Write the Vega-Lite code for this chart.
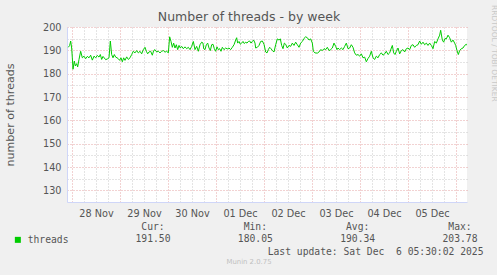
{
  "$schema": "https://vega.github.io/schema/vega-lite/v6.json",
  "background": "#f0f0f0",
  "padding": {"left": 4, "top": 5, "right": 10, "bottom": 10},
  "config": {
    "view": {"stroke": null},
    "font": "DejaVu Sans",
    "axis": {"labelFont": "DejaVu Sans", "labelFontSize": 9.7, "labelColor": "#555555", "titleFont": "DejaVu Sans", "titleFontWeight": "normal", "titleColor": "#555555", "labelFlush": false, "labelOverlap": false},
    "title": {"font": "DejaVu Sans", "fontWeight": "normal"}
  },
  "title": {"text": "RRDTOOL / TOBI OETIKER", "orient": "right", "anchor": "start", "fontSize": 7.5, "color": "#c8c8c8", "offset": 7, "dx": -6, "angle": 90},
  "bounds": "flush",
  "spacing": 19,
  "vconcat": [
    {
      "width": 400,
      "height": 175,
      "view": {"fill": "#ffffff", "stroke": null},
      "title": {"text": "Number of threads - by week", "anchor": "middle", "frame": "group", "dx": -18, "fontSize": 12.5, "color": "#555555", "baseline": "alphabetic", "offset": -11.5},
      "data": {"values": [
        {"t":"2025-11-27T22:10","v":191.3},{"t":"2025-11-27T22:50","v":192.1},{"t":"2025-11-27T23:20","v":194.0},{"t":"2025-11-27T23:50","v":191.0},
        {"t":"2025-11-28T00:10","v":186.8},{"t":"2025-11-28T00:30","v":181.9},{"t":"2025-11-28T01:10","v":185.4},{"t":"2025-11-28T01:40","v":183.3},
        {"t":"2025-11-28T02:20","v":184.3},{"t":"2025-11-28T02:50","v":182.9},{"t":"2025-11-28T03:30","v":186.1},{"t":"2025-11-28T04:20","v":189.6},
        {"t":"2025-11-28T05:10","v":186.8},{"t":"2025-11-28T06:00","v":187.5},{"t":"2025-11-28T06:50","v":186.4},{"t":"2025-11-28T07:40","v":187.4},
        {"t":"2025-11-28T08:30","v":186.8},{"t":"2025-11-28T09:20","v":187.9},{"t":"2025-11-28T10:10","v":185.8},{"t":"2025-11-28T11:00","v":187.5},
        {"t":"2025-11-28T11:50","v":186.8},{"t":"2025-11-28T12:40","v":187.8},{"t":"2025-11-28T13:30","v":187.1},{"t":"2025-11-28T14:10","v":188.2},
        {"t":"2025-11-28T14:50","v":186.1},{"t":"2025-11-28T15:30","v":187.4},{"t":"2025-11-28T16:10","v":186.7},{"t":"2025-11-28T16:50","v":186.0},
        {"t":"2025-11-28T17:40","v":186.3},{"t":"2025-11-28T18:30","v":186.8},{"t":"2025-11-28T19:10","v":194.0},{"t":"2025-11-28T19:50","v":188.2},
        {"t":"2025-11-28T20:30","v":186.8},{"t":"2025-11-28T21:10","v":188.2},{"t":"2025-11-28T21:50","v":187.1},{"t":"2025-11-28T22:30","v":186.8},
        {"t":"2025-11-28T23:10","v":186.4},{"t":"2025-11-28T23:50","v":185.7},{"t":"2025-11-29T00:30","v":186.8},{"t":"2025-11-29T01:10","v":185.1},
        {"t":"2025-11-29T01:50","v":186.8},{"t":"2025-11-29T02:30","v":185.7},{"t":"2025-11-29T03:20","v":187.2},{"t":"2025-11-29T04:10","v":186.1},
        {"t":"2025-11-29T05:00","v":186.8},{"t":"2025-11-29T05:50","v":188.2},{"t":"2025-11-29T06:40","v":189.6},{"t":"2025-11-29T07:30","v":188.9},
        {"t":"2025-11-29T08:20","v":189.9},{"t":"2025-11-29T09:10","v":188.9},{"t":"2025-11-29T10:00","v":189.6},{"t":"2025-11-29T10:50","v":188.5},
        {"t":"2025-11-29T11:40","v":190.3},{"t":"2025-11-29T12:30","v":191.3},{"t":"2025-11-29T13:10","v":189.6},{"t":"2025-11-29T13:50","v":188.5},
        {"t":"2025-11-29T14:30","v":189.3},{"t":"2025-11-29T15:20","v":189.6},{"t":"2025-11-29T16:10","v":187.9},{"t":"2025-11-29T16:50","v":189.9},
        {"t":"2025-11-29T17:30","v":190.3},{"t":"2025-11-29T18:20","v":189.3},{"t":"2025-11-29T19:10","v":189.6},{"t":"2025-11-29T20:00","v":188.9},
        {"t":"2025-11-29T20:50","v":189.6},{"t":"2025-11-29T21:40","v":189.9},{"t":"2025-11-29T22:30","v":189.2},{"t":"2025-11-29T23:20","v":189.6},
        {"t":"2025-11-30T00:10","v":188.9},{"t":"2025-11-30T00:50","v":195.8},{"t":"2025-11-30T01:30","v":193.8},{"t":"2025-11-30T02:10","v":191.3},
        {"t":"2025-11-30T02:50","v":193.1},{"t":"2025-11-30T03:30","v":191.0},{"t":"2025-11-30T04:10","v":192.4},{"t":"2025-11-30T04:50","v":190.3},
        {"t":"2025-11-30T05:30","v":192.1},{"t":"2025-11-30T06:10","v":191.0},{"t":"2025-11-30T06:50","v":191.7},{"t":"2025-11-30T07:40","v":190.7},
        {"t":"2025-11-30T08:30","v":191.5},{"t":"2025-11-30T09:20","v":190.7},{"t":"2025-11-30T10:10","v":191.3},{"t":"2025-11-30T11:00","v":190.3},
        {"t":"2025-11-30T11:50","v":191.7},{"t":"2025-11-30T12:40","v":193.8},{"t":"2025-11-30T13:30","v":190.3},{"t":"2025-11-30T14:20","v":191.7},
        {"t":"2025-11-30T15:10","v":189.6},{"t":"2025-11-30T16:00","v":192.4},{"t":"2025-11-30T16:50","v":193.5},{"t":"2025-11-30T17:30","v":193.1},
        {"t":"2025-11-30T17:50","v":190.7},{"t":"2025-11-30T18:30","v":190.3},{"t":"2025-11-30T19:10","v":192.4},{"t":"2025-11-30T19:50","v":193.1},
        {"t":"2025-11-30T20:30","v":191.0},{"t":"2025-11-30T21:10","v":189.9},{"t":"2025-11-30T21:50","v":192.4},{"t":"2025-11-30T22:30","v":192.6},
        {"t":"2025-11-30T23:10","v":190.7},{"t":"2025-11-30T23:50","v":189.6},{"t":"2025-12-01T00:30","v":191.5},{"t":"2025-12-01T01:10","v":190.3},
        {"t":"2025-12-01T01:50","v":190.7},{"t":"2025-12-01T02:30","v":189.6},{"t":"2025-12-01T03:10","v":191.3},{"t":"2025-12-01T04:00","v":190.3},
        {"t":"2025-12-01T04:50","v":191.0},{"t":"2025-12-01T05:40","v":190.6},{"t":"2025-12-01T06:30","v":191.0},{"t":"2025-12-01T07:20","v":190.3},
        {"t":"2025-12-01T08:10","v":191.3},{"t":"2025-12-01T09:00","v":192.4},{"t":"2025-12-01T09:50","v":194.4},{"t":"2025-12-01T10:20","v":195.4},
        {"t":"2025-12-01T10:50","v":193.1},{"t":"2025-12-01T11:30","v":193.8},{"t":"2025-12-01T12:10","v":192.6},{"t":"2025-12-01T12:50","v":193.1},
        {"t":"2025-12-01T13:30","v":193.8},{"t":"2025-12-01T14:10","v":192.9},{"t":"2025-12-01T14:50","v":193.5},{"t":"2025-12-01T15:30","v":193.1},
        {"t":"2025-12-01T16:10","v":193.8},{"t":"2025-12-01T16:50","v":194.0},{"t":"2025-12-01T17:30","v":193.1},{"t":"2025-12-01T18:10","v":193.8},
        {"t":"2025-12-01T18:50","v":194.4},{"t":"2025-12-01T19:30","v":193.1},{"t":"2025-12-01T19:50","v":191.0},{"t":"2025-12-01T20:40","v":191.3},
        {"t":"2025-12-01T21:30","v":192.1},{"t":"2025-12-01T22:20","v":193.8},{"t":"2025-12-01T23:10","v":194.0},{"t":"2025-12-02T00:00","v":192.6},
        {"t":"2025-12-02T00:50","v":189.3},{"t":"2025-12-02T01:30","v":188.9},{"t":"2025-12-02T02:10","v":190.3},{"t":"2025-12-02T02:50","v":191.3},
        {"t":"2025-12-02T03:30","v":190.7},{"t":"2025-12-02T04:10","v":189.9},{"t":"2025-12-02T05:00","v":189.3},{"t":"2025-12-02T05:50","v":192.4},
        {"t":"2025-12-02T06:40","v":194.9},{"t":"2025-12-02T07:30","v":194.4},{"t":"2025-12-02T08:10","v":194.9},{"t":"2025-12-02T08:50","v":192.1},
        {"t":"2025-12-02T09:30","v":190.7},{"t":"2025-12-02T10:10","v":193.1},{"t":"2025-12-02T10:50","v":192.6},{"t":"2025-12-02T11:40","v":191.0},
        {"t":"2025-12-02T12:30","v":192.1},{"t":"2025-12-02T13:20","v":191.7},{"t":"2025-12-02T14:10","v":193.1},{"t":"2025-12-02T15:00","v":192.1},
        {"t":"2025-12-02T15:50","v":193.5},{"t":"2025-12-02T16:40","v":192.4},{"t":"2025-12-02T17:30","v":191.3},{"t":"2025-12-02T18:20","v":193.1},
        {"t":"2025-12-02T19:10","v":193.8},{"t":"2025-12-02T20:00","v":195.1},{"t":"2025-12-02T20:50","v":195.8},{"t":"2025-12-02T21:40","v":195.4},
        {"t":"2025-12-02T22:30","v":194.4},{"t":"2025-12-02T23:20","v":194.9},{"t":"2025-12-03T00:10","v":193.1},{"t":"2025-12-03T00:40","v":189.6},
        {"t":"2025-12-03T01:30","v":188.9},{"t":"2025-12-03T02:40","v":188.8},{"t":"2025-12-03T03:30","v":189.3},{"t":"2025-12-03T04:20","v":190.3},
        {"t":"2025-12-03T05:10","v":189.9},{"t":"2025-12-03T06:00","v":190.7},{"t":"2025-12-03T06:50","v":190.3},{"t":"2025-12-03T07:40","v":191.3},
        {"t":"2025-12-03T08:30","v":189.9},{"t":"2025-12-03T09:20","v":190.3},{"t":"2025-12-03T10:10","v":191.0},{"t":"2025-12-03T11:00","v":193.1},
        {"t":"2025-12-03T11:50","v":191.7},{"t":"2025-12-03T12:30","v":190.3},{"t":"2025-12-03T13:00","v":191.0},{"t":"2025-12-03T13:50","v":190.3},
        {"t":"2025-12-03T14:40","v":191.0},{"t":"2025-12-03T15:30","v":190.3},{"t":"2025-12-03T16:20","v":191.7},{"t":"2025-12-03T17:10","v":193.1},
        {"t":"2025-12-03T18:00","v":190.7},{"t":"2025-12-03T18:50","v":191.0},{"t":"2025-12-03T19:40","v":192.4},{"t":"2025-12-03T20:30","v":191.3},
        {"t":"2025-12-03T21:20","v":188.9},{"t":"2025-12-03T22:10","v":187.9},{"t":"2025-12-03T23:00","v":188.2},{"t":"2025-12-03T23:50","v":187.5},
        {"t":"2025-12-04T00:40","v":188.5},{"t":"2025-12-04T01:30","v":186.8},{"t":"2025-12-04T02:20","v":187.1},{"t":"2025-12-04T03:10","v":185.1},
        {"t":"2025-12-04T04:00","v":186.5},{"t":"2025-12-04T04:50","v":187.5},{"t":"2025-12-04T05:40","v":189.6},{"t":"2025-12-04T06:30","v":186.8},
        {"t":"2025-12-04T07:20","v":186.1},{"t":"2025-12-04T08:10","v":187.5},{"t":"2025-12-04T09:00","v":186.8},{"t":"2025-12-04T09:50","v":188.2},
        {"t":"2025-12-04T10:40","v":188.9},{"t":"2025-12-04T11:30","v":187.9},{"t":"2025-12-04T12:20","v":188.5},{"t":"2025-12-04T13:10","v":189.6},
        {"t":"2025-12-04T14:00","v":188.2},{"t":"2025-12-04T14:50","v":188.9},{"t":"2025-12-04T15:40","v":191.0},{"t":"2025-12-04T16:10","v":192.1},
        {"t":"2025-12-04T16:50","v":188.9},{"t":"2025-12-04T17:30","v":188.2},{"t":"2025-12-04T18:10","v":189.6},{"t":"2025-12-04T19:00","v":191.0},
        {"t":"2025-12-04T19:50","v":188.5},{"t":"2025-12-04T20:40","v":189.9},{"t":"2025-12-04T21:30","v":190.3},{"t":"2025-12-04T22:20","v":189.3},
        {"t":"2025-12-04T23:10","v":190.7},{"t":"2025-12-05T00:00","v":191.0},{"t":"2025-12-05T00:50","v":190.3},{"t":"2025-12-05T01:40","v":192.1},
        {"t":"2025-12-05T02:30","v":192.4},{"t":"2025-12-05T03:20","v":191.3},{"t":"2025-12-05T04:10","v":192.1},{"t":"2025-12-05T05:00","v":192.4},
        {"t":"2025-12-05T05:50","v":194.0},{"t":"2025-12-05T06:40","v":192.6},{"t":"2025-12-05T07:30","v":193.5},{"t":"2025-12-05T08:20","v":192.4},
        {"t":"2025-12-05T09:10","v":193.1},{"t":"2025-12-05T10:00","v":192.1},{"t":"2025-12-05T10:50","v":193.1},{"t":"2025-12-05T11:40","v":192.1},
        {"t":"2025-12-05T12:30","v":190.7},{"t":"2025-12-05T13:20","v":193.8},{"t":"2025-12-05T14:10","v":193.1},{"t":"2025-12-05T15:00","v":194.9},
        {"t":"2025-12-05T15:50","v":196.5},{"t":"2025-12-05T16:20","v":198.6},{"t":"2025-12-05T17:10","v":194.4},{"t":"2025-12-05T17:50","v":193.5},
        {"t":"2025-12-05T18:30","v":195.1},{"t":"2025-12-05T19:10","v":194.9},{"t":"2025-12-05T20:00","v":196.5},{"t":"2025-12-05T20:50","v":195.4},
        {"t":"2025-12-05T21:40","v":193.5},{"t":"2025-12-05T22:30","v":194.4},{"t":"2025-12-05T23:20","v":193.1},{"t":"2025-12-05T23:50","v":192.1},
        {"t":"2025-12-06T00:30","v":189.9},{"t":"2025-12-06T01:10","v":188.2},{"t":"2025-12-06T01:50","v":189.9},{"t":"2025-12-06T02:40","v":190.7},
        {"t":"2025-12-06T03:30","v":191.0},{"t":"2025-12-06T04:20","v":192.1},{"t":"2025-12-06T05:10","v":192.6},{"t":"2025-12-06T05:30","v":192.1}
      ]},
      "layer": [
        {
          "mark": {"type": "line", "color": "#00cc00", "strokeWidth": 1, "clip": true},
          "encoding": {
            "x": {
              "field": "t", "type": "temporal", "title": null,
              "scale": {"domain": [{"year":2025,"month":11,"date":27,"hours":21,"minutes":30},{"year":2025,"month":12,"date":6,"hours":5,"minutes":30}], "nice": false},
              "axis": {
                "orient": "bottom",
                "values": [
                  {"year":2025,"month":11,"date":28,"hours":6},{"year":2025,"month":11,"date":28,"hours":12},{"year":2025,"month":11,"date":28,"hours":18},
                  {"year":2025,"month":11,"date":29,"hours":6},{"year":2025,"month":11,"date":29,"hours":12},{"year":2025,"month":11,"date":29,"hours":18},
                  {"year":2025,"month":11,"date":30,"hours":6},{"year":2025,"month":11,"date":30,"hours":12},{"year":2025,"month":11,"date":30,"hours":18},
                  {"year":2025,"month":12,"date":1,"hours":6},{"year":2025,"month":12,"date":1,"hours":12},{"year":2025,"month":12,"date":1,"hours":18},
                  {"year":2025,"month":12,"date":2,"hours":6},{"year":2025,"month":12,"date":2,"hours":12},{"year":2025,"month":12,"date":2,"hours":18},
                  {"year":2025,"month":12,"date":3,"hours":6},{"year":2025,"month":12,"date":3,"hours":12},{"year":2025,"month":12,"date":3,"hours":18},
                  {"year":2025,"month":12,"date":4,"hours":6},{"year":2025,"month":12,"date":4,"hours":12},{"year":2025,"month":12,"date":4,"hours":18},
                  {"year":2025,"month":12,"date":5,"hours":6},{"year":2025,"month":12,"date":5,"hours":12},{"year":2025,"month":12,"date":5,"hours":18}
                ],
                "labelExpr": "hours(datum.value) == 12 ? timeFormat(datum.value, '%d %b') : ''",
                "grid": true, "gridColor": "#c8c8c8", "gridDash": [1, 2],
                "ticks": false, "tickSize": 0, "labelPadding": 6,
                "domainColor": "#cfd6f8"
              }
            },
            "y": {
              "field": "v", "type": "quantitative",
              "scale": {"domain": [125, 200], "nice": false, "zero": false},
              "axis": {
                "orient": "left",
                "values": [130, 140, 150, 160, 170, 180, 190, 200],
                "grid": true, "gridColor": "#e4a4a4", "gridDash": [1, 2],
                "ticks": false, "tickSize": 0, "labelPadding": 6,
                "domainColor": "#cfd6f8",
                "title": "number of threads", "titleFontSize": 11.1,
                "titleX": -57, "titleY": 87.5, "titleAngle": 270, "titleBaseline": "middle", "titleAlign": "center"
              }
            },
            "color": {
              "datum": "threads", "type": "nominal",
              "scale": {"range": ["#00cc00"]},
              "legend": {
                "orient": "none", "legendX": -54, "legendY": 208, "title": null,
                "symbolType": "square", "symbolSize": 36, "symbolFillColor": "#00cc00", "symbolStrokeWidth": 0, "symbolOpacity": 1,
                "labelFont": "DejaVu Sans Mono", "labelFontSize": 9.7, "labelColor": "#555555", "labelOffset": 5, "padding": 0
              }
            }
          }
        },
        {
          "mark": {"type": "line", "strokeOpacity": 0},
          "encoding": {
            "x": {
              "field": "t", "type": "temporal",
              "axis": {
                "orient": "bottom", "title": null,
                "values": [
                  {"year":2025,"month":11,"date":28},{"year":2025,"month":11,"date":29},{"year":2025,"month":11,"date":30},
                  {"year":2025,"month":12,"date":1},{"year":2025,"month":12,"date":2},{"year":2025,"month":12,"date":3},
                  {"year":2025,"month":12,"date":4},{"year":2025,"month":12,"date":5},{"year":2025,"month":12,"date":6}
                ],
                "grid": true, "gridColor": "#e4a4a4", "gridDash": [1, 2],
                "labels": false, "ticks": false, "domain": false
              }
            },
            "y": {
              "field": "v", "type": "quantitative",
              "axis": {
                "orient": "left", "title": null,
                "values": [135, 145, 155, 165, 175, 185, 195],
                "grid": true, "gridColor": "#c8c8c8", "gridDash": [1, 2],
                "labels": false, "ticks": false, "domain": false
              }
            }
          }
        }
      ],
      "resolve": {"axis": {"x": "independent", "y": "independent"}}
    },
    {
      "width": 400,
      "height": 24,
      "view": {"stroke": null},
      "title": {"text": "Munin 2.0.75", "orient": "bottom", "anchor": "middle", "frame": "group", "dx": -18, "fontSize": 6.9, "color": "#c0c0c0", "baseline": "top", "offset": 3},
      "data": {"values": [
        {"stat": "Cur", "label": "Cur:", "value": 191.50},
        {"stat": "Min", "label": "Min:", "value": 180.05},
        {"stat": "Avg", "label": "Avg:", "value": 190.34},
        {"stat": "Max", "label": "Max:", "value": 203.78}
      ]},
      "encoding": {
        "x": {
          "field": "stat", "type": "nominal",
          "scale": {"type": "point", "domain": ["Cur", "Min", "Avg", "Max"], "padding": 0.4545, "align": 0.925},
          "axis": {
            "orient": "bottom", "labels": false, "ticks": false, "domain": false, "grid": false,
            "title": "Last update: Sat Dec\u00a0 6 05:30:02 2025",
            "titleFont": "DejaVu Sans Mono", "titleFontSize": 9.7, "titleColor": "#555555",
            "titleX": 416, "titleY": 6, "titleAlign": "right", "titleBaseline": "middle"
          }
        }
      },
      "layer": [
        {
          "mark": {"type": "text", "font": "DejaVu Sans Mono", "fontSize": 9.7, "color": "#555555", "baseline": "middle", "align": "center"},
          "encoding": {
            "y": {"datum": "header", "type": "nominal", "scale": {"type": "point", "domain": ["header", "value"], "padding": 0.5}, "axis": null},
            "text": {"field": "label"}
          }
        },
        {
          "mark": {"type": "text", "font": "DejaVu Sans Mono", "fontSize": 9.7, "color": "#555555", "baseline": "middle", "align": "center"},
          "encoding": {
            "y": {"datum": "value", "type": "nominal", "axis": null},
            "text": {"field": "value", "type": "quantitative", "format": ".2f"}
          }
        }
      ]
    }
  ]
}
